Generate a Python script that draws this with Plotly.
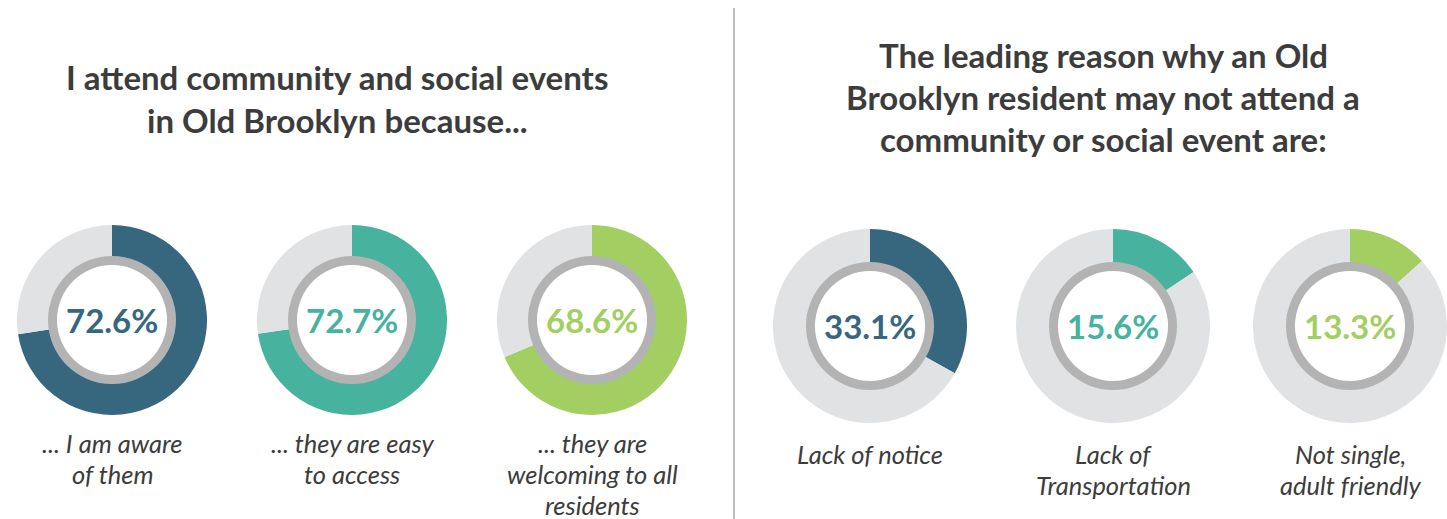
import plotly.graph_objects as go

W, H = 1447, 519

# ---- data ----
left_title = ["I attend community and social events", "in Old Brooklyn because..."]
right_title = ["The leading reason why an Old", "Brooklyn resident may not attend a", "community or social event are:"]

left_values = [72.6, 72.7, 68.6]
left_labels = [["... I am aware", "of them"],
               ["... they are easy", "to access"],
               ["... they are", "welcoming to all", "residents"]]

right_values = [33.1, 15.6, 13.3]
right_labels = [["Lack of notice"],
                ["Lack of", "Transportation"],
                ["Not single,", "adult friendly"]]

colors = ["#37667F", "#47B29D", "#A3CE62"]
rest_color = "#E1E2E4"
ring_color = "#B3B3B3"
text_color = "#3C3C3C"

# ---- layout helpers (pixel positions) ----
def px(x):
    return x / W

def py(y):
    return 1 - y / H

fig = go.Figure()
annotations = []

def add_donut(cx, cy, r, value, color, label_lines, label_y0):
    x0, x1 = cx - r, cx + r
    if x1 > W:
        x1 = W
        x0 = W - 2 * r
        cx = W - r
    fig.add_trace(go.Pie(
        values=[value, 100 - value],
        marker=dict(colors=[color, rest_color], line=dict(width=0)),
        hole=0.62, sort=False, direction="clockwise", rotation=0,
        textinfo="none", hoverinfo="skip", showlegend=False,
        domain=dict(x=[px(x0), px(x1)], y=[py(cy + r), py(cy - r)]),
    ))
    rr = 64
    fig.add_trace(go.Pie(
        values=[1],
        marker=dict(colors=[ring_color], line=dict(width=0)),
        hole=55 / 64, sort=False,
        textinfo="none", hoverinfo="skip", showlegend=False,
        domain=dict(x=[px(cx - rr), px(cx + rr)], y=[py(cy + rr), py(cy - rr)]),
    ))
    annotations.append(dict(
        x=px(cx), y=py(cy), xref="paper", yref="paper", showarrow=False,
        text=f"<b>{value:.1f}%</b>", xanchor="center", yanchor="middle",
        font=dict(family="Lato", size=33, color=color),
    ))
    for i, line in enumerate(label_lines):
        annotations.append(dict(
            x=px(cx), y=py(label_y0 + i * 31), xref="paper", yref="paper", showarrow=False,
            text=f"<i>{line}</i>", xanchor="center", yanchor="middle",
            font=dict(family="Lato", size=25.5, color=text_color),
        ))

left_cx = [112, 352, 592]
right_cx = [870, 1113, 1357]

for i in range(3):
    add_donut(left_cx[i], 320, 95, left_values[i], colors[i], left_labels[i], 443)
for i in range(3):
    add_donut(right_cx[i], 326, 97, right_values[i], colors[i], right_labels[i], 454)

for i, line in enumerate(left_title):
    annotations.append(dict(
        x=px(337), y=py(77 + i * 43), xref="paper", yref="paper", showarrow=False,
        text=f"<b>{line}</b>", xanchor="center", yanchor="middle",
        font=dict(family="Lato", size=33, color=text_color),
    ))
for i, line in enumerate(right_title):
    annotations.append(dict(
        x=px(1103), y=py(55 + i * 42), xref="paper", yref="paper", showarrow=False,
        text=f"<b>{line}</b>", xanchor="center", yanchor="middle",
        font=dict(family="Lato", size=33, color=text_color),
    ))

fig.update_layout(
    width=W, height=H, margin=dict(l=0, r=0, t=0, b=0),
    paper_bgcolor="white", plot_bgcolor="white",
    annotations=annotations,
    shapes=[dict(type="line", xref="paper", yref="paper",
                 x0=px(734), x1=px(734), y0=py(8), y1=0,
                 line=dict(color="#BDBDBD", width=2))],
)

fig.write_html("out.html", config={"displayModeBar": False},
               post_script="document.body.style.margin='0';")
